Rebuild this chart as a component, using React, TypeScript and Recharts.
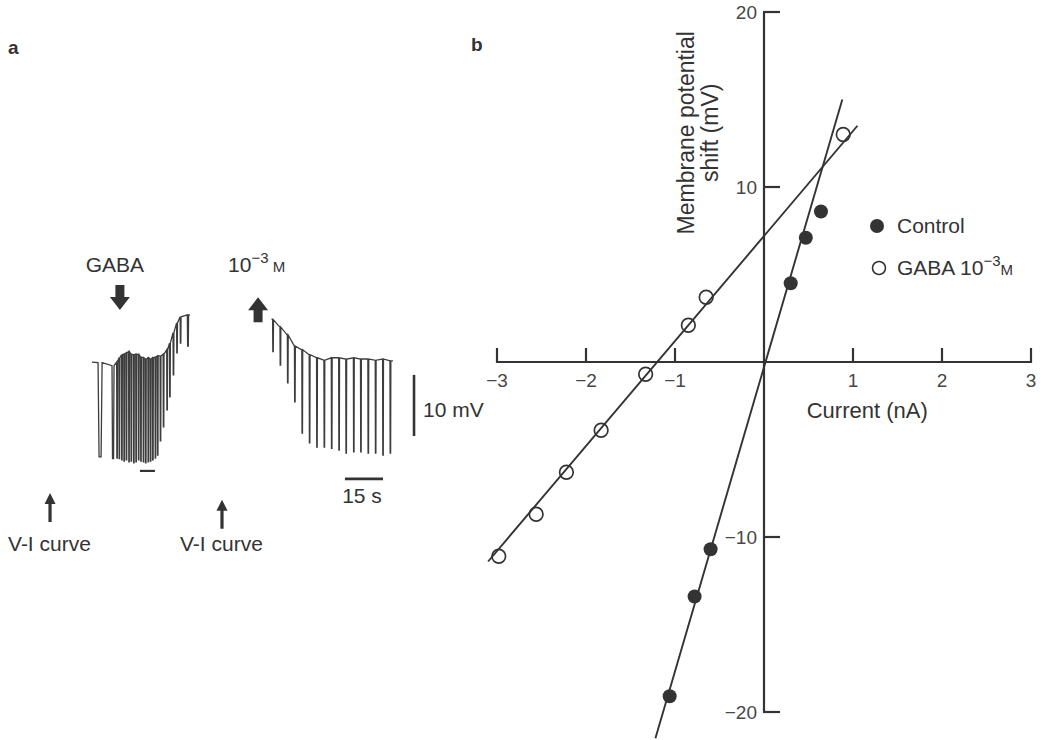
import React from 'react';
import {
  LineChart,
  Line,
  XAxis,
  YAxis,
  ReferenceDot,
  ReferenceLine,
  ComposedChart,
  Scatter,
  Legend,
} from 'recharts';

const FONT = '"Liberation Sans", Arial, Helvetica, sans-serif';
const INK = '#333';
const TICK_INK = '#474747';

// ---------------- Panel a : membrane potential trace (time in s, potential in mV) ----------------
const leftStart = { t: 0.2, v: -0.2 };
const leftEnd = { t: 38.8, v: 7.5 };
const leftPulseT = [3.4, 8.5, 10.1, 11.0, 12.0, 12.9, 13.8, 14.8, 15.7, 16.7, 17.6, 18.6, 19.5, 20.5, 21.4, 22.4, 23.3, 24.2, 25.2, 26.1, 27.2, 28.4, 29.8, 30.9, 32.3, 33.7, 35.1, 38.0];
const leftPulseTop = [-0.3, -0.8, -0.2, 0.5, 1.0, 1.1, 1.3, 1.5, 1.1, 1.0, 1.1, 1.0, 0.6, 0.5, 0.3, 0.5, 0.3, 0.5, 0.6, 0.8, 0.8, 1.1, 1.8, 2.9, 4.6, 6.2, 7.2, 7.5];
const leftPulseBottom = [-15.7, -16.0, -15.9, -16.0, -16.2, -16.4, -16.2, -16.5, -16.4, -16.7, -16.5, -16.2, -16.4, -16.5, -16.7, -16.5, -16.4, -16.2, -15.9, -15.4, -13.1, -10.8, -8.0, -5.9, -2.3, 1.3, 2.9, 2.4];
const leftPulseWidth = [1.6, 0.8, 0.35, 0.35, 0.35, 0.35, 0.35, 0.35, 0.35, 0.35, 0.35, 0.35, 0.35, 0.35, 0.35, 0.35, 0.35, 0.35, 0.35, 0.35, 0.35, 0.35, 0.35, 0.35, 0.35, 0.35, 0.35, 0.5];

const rightStart = { t: 71.0, v: 6.9 };
const rightEnd = { t: 118.7, v: 0.0 };
const rightPulseT = [71.5, 74.4, 77.3, 80.1, 83.0, 85.9, 88.8, 91.7, 94.6, 97.5, 100.3, 103.3, 106.1, 109.0, 111.9, 114.8, 117.7];
const rightPulseTop = [6.7, 5.5, 4.2, 2.4, 1.8, 1.0, 0.5, 0.1, 0.5, 0.5, 0.3, 0.5, 0.3, 0.3, 0.1, 0.3, 0.0];
const rightPulseBottom = [1.5, -0.7, -3.6, -6.7, -11.8, -13.4, -14.1, -14.1, -14.3, -14.6, -15.1, -14.9, -14.9, -15.1, -15.1, -15.4, -15.1];
const rightPulseWidth = 0.35;

// scale bars and annotations (time s, potential mV)
const mvBar = [{ t: 127, v: -2.3 }, { t: 127, v: -12.3 }];
const secBar = [{ t: 99.8, v: -19.3 }, { t: 114.8, v: -19.3 }];
const gabaMark = [{ t: 19.1, v: -18.0 }, { t: 25.0, v: -18.0 }];
const gabaOn = { t: 11.2, v: 8.3 };
const gabaOff = { t: 65.6, v: 10.4 };
const viCurves = [{ t: -16.3, v: -21.6 }, { t: 51.4, v: -22.7 }];

function buildTrace(start: any, times: number[], tops: number[], bottoms: number[], widths: number[] | number, end: any) {
  const pts: { t: number; v: number }[] = [start];
  times.forEach((t, i) => {
    const w = Array.isArray(widths) ? widths[i] : widths;
    pts.push({ t: t - w / 2, v: tops[i] });
    pts.push({ t: t - w / 4, v: bottoms[i] });
    pts.push({ t: t + w / 4, v: bottoms[i] });
    pts.push({ t: t + w / 2, v: tops[i] });
  });
  pts.push(end);
  return pts;
}

const leftTrace = buildTrace(leftStart, leftPulseT, leftPulseTop, leftPulseBottom, leftPulseWidth, leftEnd);
const rightTrace = buildTrace(rightStart, rightPulseT, rightPulseTop, rightPulseBottom, rightPulseWidth, rightEnd);

// ---------------- Panel b : V-I relation ----------------
const controlI = [-1.06, -0.78, -0.6, 0.3, 0.47, 0.64];
const controlV = [-19.1, -13.4, -10.7, 4.5, 7.1, 8.6];
const gabaI = [-2.98, -2.56, -2.22, -1.83, -1.33, -0.85, -0.65, 0.89];
const gabaV = [-11.1, -8.7, -6.3, -3.9, -0.7, 2.1, 3.7, 13.0];
const controlFitI = [-1.22, 0.88];
const controlFitV = [-21.5, 15.0];
const gabaFitI = [-3.1, 1.05];
const gabaFitV = [-11.4, 13.5];
const xTicks = [-3, -2, -1, 1, 2, 3];
const yTicks = [20, 10, -10, -20];
const seriesNames = ['Control', 'GABA 10'];

const zip = (xs: number[], ys: number[]) => xs.map((x, i) => ({ i: x, v: ys[i] }));
const controlData = zip(controlI, controlV);
const gabaData = zip(gabaI, gabaV);
const controlFit = zip(controlFitI, controlFitV);
const gabaFit = zip(gabaFitI, gabaFitV);

const fmt = (n: number) => (n < 0 ? '\u2212' + Math.abs(n) : String(n));

const txt = { fontFamily: FONT, fill: INK } as const;

function ThickArrow({ cx, cy, dir }: { cx: number; cy: number; dir: 'down' | 'up' }) {
  const s = dir === 'down' ? -1 : 1; // body extends away from tip
  const pts = [
    [0, 0],
    [-10, 13 * s],
    [-4.5, 13 * s],
    [-4.5, 25 * s],
    [4.5, 25 * s],
    [4.5, 13 * s],
    [10, 13 * s],
  ]
    .map(([x, y]) => `${cx + x},${cy + y}`)
    .join(' ');
  return <polygon points={pts} fill={INK} />;
}

function ThinArrow({ cx, cy }: { cx: number; cy: number }) {
  const pts = [
    [0, 0],
    [-5.5, 11],
    [-1.6, 11],
    [-1.6, 29],
    [1.6, 29],
    [1.6, 11],
    [5.5, 11],
  ]
    .map(([x, y]) => `${cx + x},${cy + y}`)
    .join(' ');
  return <polygon points={pts} fill={INK} />;
}

const lineProps = { dot: false, activeDot: false, isAnimationActive: false, legendType: 'none' as const };

function PanelA() {
  return (
    <LineChart width={500} height={740} margin={{ top: 0, right: 0, bottom: 0, left: 0 }}>
      <XAxis type="number" dataKey="t" domain={[-36, 160.85]} hide allowDataOverflow />
      <YAxis type="number" domain={[-62, 59]} hide allowDataOverflow />
      <Line data={leftTrace} dataKey="v" stroke="#3d3d3d" strokeWidth={1.3} {...lineProps} />
      <Line data={rightTrace} dataKey="v" stroke="#3d3d3d" strokeWidth={1.3} {...lineProps} />
      <Line data={mvBar} dataKey="v" stroke={INK} strokeWidth={2.6} {...lineProps} />
      <Line data={secBar} dataKey="v" stroke={INK} strokeWidth={2.6} {...lineProps} />
      <Line data={gabaMark} dataKey="v" stroke={INK} strokeWidth={2.2} {...lineProps} />
      <ReferenceDot
        x={mvBar[0].t}
        y={mvBar[0].v}
        r={1}
        shape={(p: any) => (
          <text x={p.cx + 9} y={p.cy + 42} fontSize={21} {...txt}>
            10 mV
          </text>
        )}
      />
      <ReferenceDot
        x={(secBar[0].t + secBar[1].t) / 2}
        y={secBar[0].v}
        r={1}
        shape={(p: any) => (
          <text x={p.cx - 2} y={p.cy + 24} fontSize={21} textAnchor="middle" {...txt}>
            15 s
          </text>
        )}
      />
      <ReferenceDot
        x={gabaOn.t}
        y={gabaOn.v}
        r={1}
        shape={(p: any) => (
          <g>
            <ThickArrow cx={p.cx} cy={p.cy} dir="down" />
            <text x={p.cx - 5} y={p.cy - 38} fontSize={21} textAnchor="middle" {...txt}>
              GABA
            </text>
          </g>
        )}
      />
      <ReferenceDot
        x={gabaOff.t}
        y={gabaOff.v}
        r={1}
        shape={(p: any) => (
          <g>
            <ThickArrow cx={p.cx} cy={p.cy} dir="up" />
            <text x={p.cx - 30} y={p.cy - 25} fontSize={21} {...txt}>
              10
              <tspan dy={-9} fontSize={15}>
                {'\u22123'}
              </tspan>
              <tspan dy={9} fontSize={15}>
                {' M'}
              </tspan>
            </text>
          </g>
        )}
      />
      {viCurves.map((a, k) => (
        <ReferenceDot
          key={k}
          x={a.t}
          y={a.v}
          r={1}
          shape={(p: any) => (
            <g>
              <ThinArrow cx={p.cx} cy={p.cy} />
              <text x={p.cx - 42} y={p.cy + 58 - k * 7} fontSize={21} {...txt}>
                V-I curve
              </text>
            </g>
          )}
        />
      ))}
    </LineChart>
  );
}

function LegendBox() {
  return (
    <svg width={200} height={80} style={{ display: 'block', overflow: 'visible' }}>
      <circle cx={9} cy={14} r={7} fill={INK} />
      <text x={29} y={21} fontSize={21} {...txt}>
        {seriesNames[0]}
      </text>
      <circle cx={11} cy={56} r={6.5} fill="none" stroke={INK} strokeWidth={1.6} />
      <text x={29} y={63} fontSize={21} {...txt}>
        {seriesNames[1]}
        <tspan dy={-9} fontSize={15}>
          {'\u22123'}
        </tspan>
        <tspan dy={9} fontSize={15}>
          M
        </tspan>
      </text>
    </svg>
  );
}

function PanelB() {
  return (
    <ComposedChart width={586} height={740} margin={{ top: 5, right: 6.1, bottom: 0, left: 19.2 }}>
      <XAxis type="number" dataKey="i" domain={[-3.2, 3.1]} hide allowDataOverflow />
      <YAxis type="number" dataKey="v" domain={[-21.6, 20.4]} hide allowDataOverflow />
      <ReferenceLine segment={[{ x: -3, y: 0 }, { x: 3, y: 0 }]} stroke={INK} strokeWidth={2.2} ifOverflow="visible" />
      <ReferenceLine segment={[{ x: 0, y: -20 }, { x: 0, y: 20 }]} stroke={INK} strokeWidth={2.2} ifOverflow="visible" />
      {xTicks.map((t) => (
        <ReferenceDot
          key={'x' + t}
          x={t}
          y={0}
          r={1}
          shape={(p: any) => (
            <g>
              <line x1={p.cx} y1={p.cy + 1} x2={p.cx} y2={p.cy - 14} stroke={INK} strokeWidth={2.2} />
              <text x={p.cx} y={p.cy + 25} fontSize={19} textAnchor="middle" fontFamily={FONT} fill={TICK_INK}>
                {fmt(t)}
              </text>
            </g>
          )}
        />
      ))}
      {yTicks.map((t) => (
        <ReferenceDot
          key={'y' + t}
          x={0}
          y={t}
          r={1}
          shape={(p: any) => (
            <g>
              <line x1={p.cx - 1} y1={p.cy} x2={p.cx + 16} y2={p.cy} stroke={INK} strokeWidth={2.2} />
              <text x={p.cx - 7} y={p.cy + 7} fontSize={19} textAnchor="end" fontFamily={FONT} fill={TICK_INK}>
                {fmt(t)}
              </text>
            </g>
          )}
        />
      ))}
      <ReferenceDot
        x={1.16}
        y={-2.74}
        r={1}
        shape={(p: any) => (
          <text x={p.cx} y={p.cy + 8} fontSize={22} textAnchor="middle" {...txt}>
            Current (nA)
          </text>
        )}
      />
      <ReferenceDot
        x={-0.74}
        y={13.1}
        r={1}
        shape={(p: any) => (
          <g transform={`rotate(-90 ${p.cx} ${p.cy})`}>
            <text x={p.cx} y={p.cy - 4} fontSize={23} textAnchor="middle" {...txt}>
              Membrane potential
            </text>
            <text x={p.cx} y={p.cy + 20} fontSize={23} textAnchor="middle" {...txt}>
              shift (mV)
            </text>
          </g>
        )}
      />
      <Line data={controlFit} dataKey="v" stroke={INK} strokeWidth={1.9} {...lineProps} />
      <Line data={gabaFit} dataKey="v" stroke={INK} strokeWidth={1.9} {...lineProps} />
      <Scatter
        name={seriesNames[0]}
        data={controlData}
        isAnimationActive={false}
        shape={(p: any) => <circle cx={p.cx} cy={p.cy} r={7} fill={INK} />}
      />
      <Scatter
        name={seriesNames[1]}
        data={gabaData}
        isAnimationActive={false}
        shape={(p: any) => <circle cx={p.cx} cy={p.cy} r={6.8} fill="none" stroke={INK} strokeWidth={1.7} />}
      />
      <Legend
        layout="horizontal"
        verticalAlign="middle"
        align="center"
        wrapperStyle={{ left: 408, top: 212, width: 200, height: 80 }}
        content={() => <LegendBox />}
      />
    </ComposedChart>
  );
}

export default function App() {
  return (
    <div style={{ position: 'absolute', left: 0, top: 0, width: 1046, height: 740, background: '#fff', fontFamily: FONT }}>
      <div style={{ position: 'absolute', left: 0, top: 0 }}>
        <PanelA />
      </div>
      <div style={{ position: 'absolute', left: 460, top: 0 }}>
        <PanelB />
      </div>
      <div style={{ position: 'absolute', left: 8, top: 37, fontSize: 19, fontWeight: 'bold', color: INK }}>a</div>
      <div style={{ position: 'absolute', left: 471, top: 34, fontSize: 19, fontWeight: 'bold', color: INK }}>b</div>
    </div>
  );
}
